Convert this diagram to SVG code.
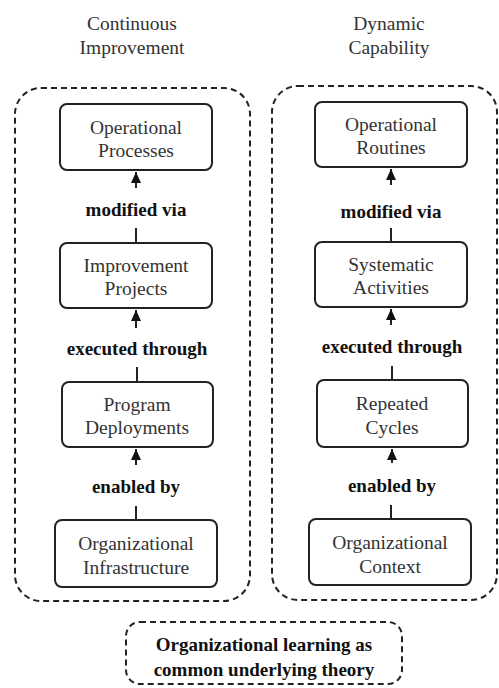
<svg xmlns="http://www.w3.org/2000/svg" width="499" height="688" viewBox="0 0 499 688">
<style>
.bg{fill:#fff}
.cont{fill:none;stroke:#222;stroke-width:2;stroke-dasharray:6,4}
.box{fill:#fff;stroke:#222;stroke-width:2}
.t{font-size:19.5px;fill:#333;text-anchor:middle}
.b{font-size:19px;font-weight:bold;fill:#111;text-anchor:middle}
.ln{stroke:#222;stroke-width:2;fill:none}
</style>
<defs>
<marker id="ah" markerWidth="12" markerHeight="12" refX="11" refY="5" orient="auto" markerUnits="userSpaceOnUse" viewBox="0 0 12 10">
<path d="M0,0 L11,5 L0,10 Z" fill="#111"/>
</marker>
</defs>
<rect class="bg" width="499" height="688"/>
<g font-family="Liberation Serif, Times New Roman, Times, serif">
<g id="titles">
<text class="t" x="132" y="30">Continuous</text>
<text class="t" x="132" y="54">Improvement</text>
<text class="t" x="389" y="30">Dynamic</text>
<text class="t" x="389" y="54">Capability</text>
</g>
<g id="container-ci"><rect class="cont" x="15" y="88" width="235" height="513" rx="26"/></g>
<g id="container-dc"><rect class="cont" x="272" y="86" width="225" height="514" rx="26"/></g>
<g id="operational-processes"><rect class="box" x="60" y="104" width="152" height="66" rx="7"/><text class="t" x="136" y="134">Operational</text><text class="t" x="136" y="157">Processes</text></g>
<g id="improvement-projects"><rect class="box" x="60" y="243" width="152" height="65" rx="7"/><text class="t" x="136" y="272">Improvement</text><text class="t" x="136" y="295">Projects</text></g>
<g id="program-deployments"><rect class="box" x="62" y="382" width="151" height="65" rx="7"/><text class="t" x="137" y="411">Program</text><text class="t" x="137" y="434">Deployments</text></g>
<g id="organizational-infrastructure"><rect class="box" x="55" y="520" width="162" height="67" rx="7"/><text class="t" x="136" y="550">Organizational</text><text class="t" x="136" y="574">Infrastructure</text></g>
<g id="operational-routines"><rect class="box" x="315" y="102" width="152" height="65" rx="7"/><text class="t" x="391" y="131">Operational</text><text class="t" x="391" y="154">Routines</text></g>
<g id="systematic-activities"><rect class="box" x="315" y="242" width="152" height="65" rx="7"/><text class="t" x="391" y="271">Systematic</text><text class="t" x="391" y="294">Activities</text></g>
<g id="repeated-cycles"><rect class="box" x="317" y="380" width="151" height="67" rx="7"/><text class="t" x="392" y="410">Repeated</text><text class="t" x="392" y="434">Cycles</text></g>
<g id="organizational-context"><rect class="box" x="309" y="519" width="162" height="66" rx="7"/><text class="t" x="390" y="549">Organizational</text><text class="t" x="390" y="573">Context</text></g>
<g id="theory"><rect class="cont" x="126" y="622" width="276" height="62" rx="14"/><text class="b" x="264" y="651">Organizational learning as</text><text class="b" x="264" y="676">common underlying theory</text></g>
<g id="connectors">
<line class="ln" x1="136" y1="188" x2="136" y2="172" marker-end="url(#ah)"/>
<line class="ln" x1="136" y1="228" x2="136" y2="243"/>
<line class="ln" x1="136" y1="328" x2="136" y2="310" marker-end="url(#ah)"/>
<line class="ln" x1="137" y1="367" x2="137" y2="382"/>
<line class="ln" x1="136" y1="465" x2="136" y2="449" marker-end="url(#ah)"/>
<line class="ln" x1="136" y1="506" x2="136" y2="520"/>
<line class="ln" x1="391" y1="185" x2="391" y2="169" marker-end="url(#ah)"/>
<line class="ln" x1="391" y1="228" x2="391" y2="242"/>
<line class="ln" x1="391" y1="325" x2="391" y2="309" marker-end="url(#ah)"/>
<line class="ln" x1="392" y1="366" x2="392" y2="380"/>
<line class="ln" x1="392" y1="463" x2="392" y2="449" marker-end="url(#ah)"/>
<line class="ln" x1="391" y1="505" x2="391" y2="519"/>
</g>
<g id="labels">
<text class="b" x="136" y="216">modified via</text>
<text class="b" x="137" y="355">executed through</text>
<text class="b" x="136" y="493">enabled by</text>
<text class="b" x="391" y="218">modified via</text>
<text class="b" x="392" y="353">executed through</text>
<text class="b" x="392" y="492">enabled by</text>
</g>
</g>
</svg>
